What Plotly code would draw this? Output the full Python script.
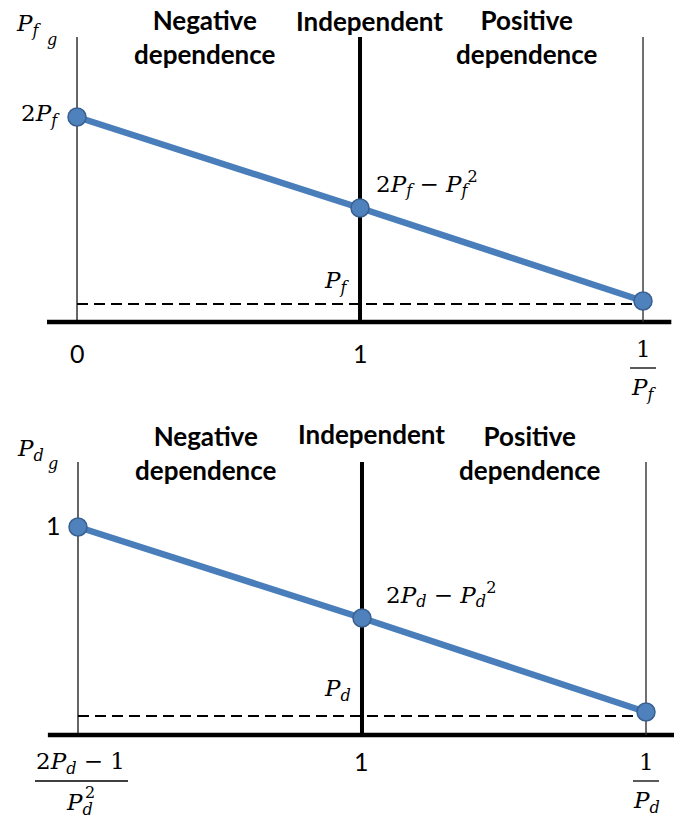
import plotly.graph_objects as go

# Schematic positions along the horizontal axis: 0 (or (2P-1)/P^2), 1, 1/P
x_pos = [0, 1, 2]

# Upper panel: P_fg at the three reference points
top_y = [2.05, 1.14, 0.21]
top_floor = 0.18          # level of P_f (dashed guide)
top_frame = 2.85          # height of the vertical guide lines

# Lower panel: P_dg at the three reference points
bot_y = [2.08, 1.17, 0.23]
bot_floor = 0.19          # level of P_d (dashed guide)
bot_frame = 2.73

# Text
region_titles = ["Negative<br>dependence", "Independent", "Positive<br>dependence"]
region_x = [0.452, 1.035, 1.59]

top_axis_name = "<i>P</i><sub><i>f</i></sub>"
bot_axis_name = "<i>P</i><sub><i>d</i></sub>"
axis_name_sub = "<i>g</i>"

top_point_labels = ["2<i>P</i><sub><i>f</i></sub>",
                    "2<i>P</i><sub><i>f</i></sub> − <i>P</i><sub><i>f</i></sub><sup>2</sup>"]
bot_point_labels = ["1",
                    "2<i>P</i><sub><i>d</i></sub> − <i>P</i><sub><i>d</i></sub><sup>2</sup>"]
top_floor_label = "<i>P</i><sub><i>f</i></sub>"
bot_floor_label = "<i>P</i><sub><i>d</i></sub>"
square = "2"

top_ticks = ["0", "1"]
bot_ticks = [None, "1"]
top_right_frac = ("1", "<i>P</i><sub><i>f</i></sub>")
bot_right_frac = ("1", "<i>P</i><sub><i>d</i></sub>")
bot_left_frac = ("2<i>P</i><sub><i>d</i></sub> − 1", "<i>P</i><sub><i>d</i></sub>")

BLUE = "#4a7ebb"
MARKER_FILL = "#4f81bd"
MARKER_EDGE = "#3a6090"
HEAD_FONT = dict(family="Lato", size=26, color="black")
MATH_FONT = dict(family="DejaVu Serif", size=23, color="black")
SUP_FONT = dict(family="DejaVu Serif", size=16, color="black")
TICK_FONT = dict(family="Lato", size=25, color="black")

fig = go.Figure()

panels = [
    dict(xa="x", ya="y", y=top_y, floor=top_floor, frame=top_frame,
         name=top_axis_name, labels=top_point_labels, floor_label=top_floor_label,
         ticks=top_ticks, rfrac=top_right_frac, lfrac=None, head_shift=0, indep_shift=16,
         label_shift=(14, 25), floor_shift=(-9, 22), tick_shift=-31),
    dict(xa="x2", ya="y2", y=bot_y, floor=bot_floor, frame=bot_frame,
         name=bot_axis_name, labels=bot_point_labels, floor_label=bot_floor_label,
         ticks=bot_ticks, rfrac=bot_right_frac, lfrac=bot_left_frac, head_shift=9, indep_shift=28,
         label_shift=(22, 23), floor_shift=(-9, 26), tick_shift=-26),
]

shapes = []
annotations = []


def text(s, xa, ya, x, y, font, xanchor="center", xshift=0, yshift=0):
    annotations.append(dict(text=s, x=x, y=y, xref=xa, yref=ya, xanchor=xanchor,
                            yanchor="middle", xshift=xshift, yshift=yshift,
                            showarrow=False, font=font))


for p in panels:
    xa, ya = p["xa"], p["ya"]

    # horizontal axis line
    shapes.append(dict(type="line", xref=xa, yref=ya, x0=-0.106, x1=2.1, y0=0, y1=0,
                       line=dict(color="black", width=4.5), layer="below"))
    # vertical guides: thin at the ends, thick at independence
    for xv, w, c in zip(x_pos, [1.2, 4, 1.4], ["black", "black", "#333333"]):
        shapes.append(dict(type="line", xref=xa, yref=ya, x0=xv, x1=xv, y0=0, y1=p["frame"],
                           line=dict(color=c, width=w), layer="below"))
    # dashed level of P
    shapes.append(dict(type="line", xref=xa, yref=ya, x0=x_pos[0], x1=x_pos[2],
                       y0=p["floor"], y1=p["floor"],
                       line=dict(color="black", width=1.8, dash="11px,6px"), layer="below"))

    fig.add_trace(go.Scatter(
        x=x_pos, y=p["y"], xaxis=xa, yaxis=ya, mode="lines+markers",
        line=dict(color=BLUE, width=6.5),
        marker=dict(size=18, color=MARKER_FILL, line=dict(color=MARKER_EDGE, width=1.5)),
        cliponaxis=False, showlegend=False, hoverinfo="skip"))

    # region headings
    for i, (t, xr) in enumerate(zip(region_titles, region_x)):
        text(f"<b>{t}</b>", xa, ya, xr, p["frame"], HEAD_FONT,
             yshift=p["indep_shift"] if i == 1 else p["head_shift"])

    # axis name P_{x g}
    text(p["name"], xa, ya, x_pos[0], p["frame"], MATH_FONT, "left", -63, 12)
    text(axis_name_sub, xa, ya, x_pos[0], p["frame"], SUP_FONT, "left", -32, -2)

    # left point label
    left_font = MATH_FONT if p["labels"][0] != "1" else TICK_FONT
    text(p["labels"][0], xa, ya, x_pos[0], p["y"][0], left_font, "right", -15, 2)
    # middle point label
    text(p["labels"][1], xa, ya, x_pos[1], p["y"][1], MATH_FONT, "left", *p["label_shift"])
    # dashed level label
    text(p["floor_label"], xa, ya, x_pos[1], p["floor"], MATH_FONT, "right", *p["floor_shift"])

    # tick labels
    for xv, t in zip(x_pos[:2], p["ticks"]):
        if t is not None:
            text(t, xa, ya, xv, 0, TICK_FONT, yshift=p["tick_shift"])

    # fraction 1/P at the right end
    num, den = p["rfrac"]
    text(num, xa, ya, x_pos[2], 0, MATH_FONT, yshift=-27)
    text(den, xa, ya, x_pos[2], 0, MATH_FONT, yshift=-67)
    shapes.append(dict(type="line", xref=xa, yref=ya, xsizemode="pixel", ysizemode="pixel",
                       xanchor=x_pos[2], yanchor=0, x0=-13, x1=13, y0=-46, y1=-46,
                       line=dict(color="black", width=1.3)))

    # fraction (2P-1)/P^2 at the left end, square stacked over the subscript
    if p["lfrac"] is not None:
        num, den = p["lfrac"]
        text(num, xa, ya, x_pos[0], 0, MATH_FONT, xshift=3, yshift=-28)
        text(den, xa, ya, x_pos[0], 0, MATH_FONT, "left", -14, -69)
        text(square, xa, ya, x_pos[0], 0, SUP_FONT, "left", 5, -58)
        shapes.append(dict(type="line", xref=xa, yref=ya, xsizemode="pixel", ysizemode="pixel",
                           xanchor=x_pos[0], yanchor=0, x0=-43, x1=50, y0=-46, y1=-46,
                           line=dict(color="black", width=1.3)))

hidden = dict(visible=False, fixedrange=True)
fig.update_layout(
    width=674, height=825,
    margin=dict(l=0, r=0, t=0, b=0),
    paper_bgcolor="white", plot_bgcolor="white",
    showlegend=False,
    xaxis=dict(domain=[0, 1], range=[-0.2721, 2.1095], anchor="y", **hidden),
    yaxis=dict(domain=[0.50061, 1], range=[-0.90, 3.22], anchor="x", **hidden),
    xaxis2=dict(domain=[0, 1], range=[-0.2746, 2.0986], anchor="y2", **hidden),
    yaxis2=dict(domain=[0, 0.50061], range=[-0.90, 3.23], anchor="x2", **hidden),
    shapes=shapes,
    annotations=annotations,
)

fig.write_html("out.html")
